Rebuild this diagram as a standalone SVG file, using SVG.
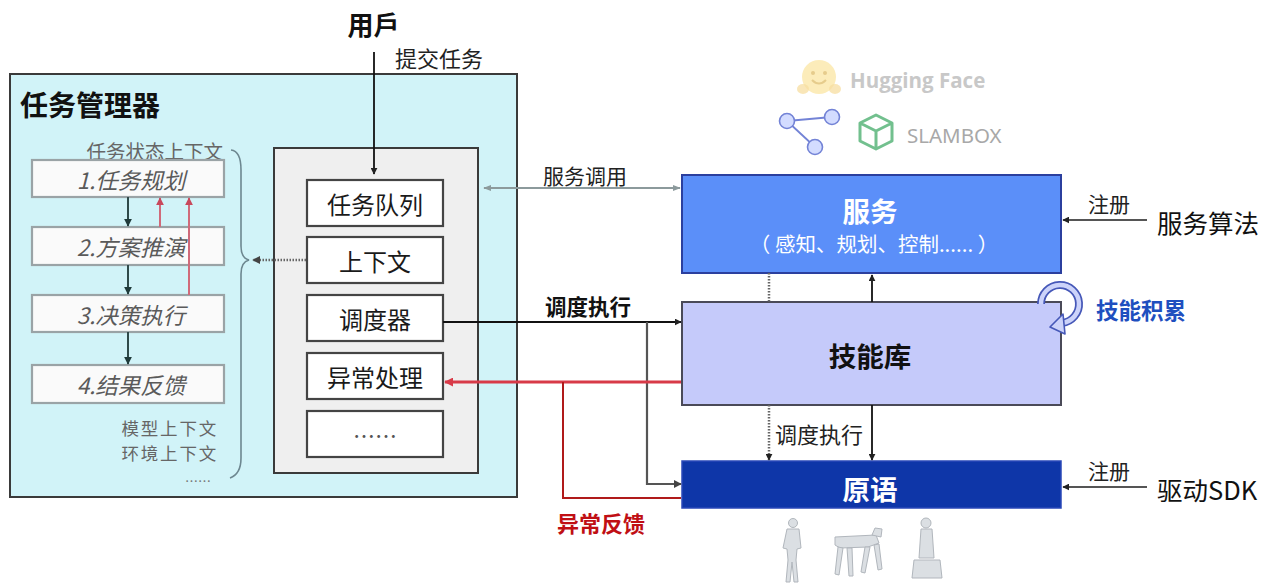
<svg xmlns="http://www.w3.org/2000/svg" width="1273" height="584" viewBox="0 0 1273 584">
  <defs>
    <style>
      .cjk { font-family: "Noto Sans CJK SC", "Noto Sans", sans-serif; }
      .c { dominant-baseline: central; }
      .mid { text-anchor: middle; }
      .end { text-anchor: end; }
      .panel { fill: #d1f3f8; stroke: #3a3a3a; stroke-width: 2; }
      .inner { fill: #efefef; stroke: #3a3a3a; stroke-width: 2; }
      .slot { fill: #ffffff; stroke: #444; stroke-width: 2.2; }
      .step { fill: #fafafa; stroke: #9aa3a6; stroke-width: 2.2; }
      .steptxt { font-size: 22.5px; font-style: italic; fill: #5a5a5a; }
      .ctx { font-size: 19.5px; fill: #666; }
      .ctx2 { font-size: 17.5px; letter-spacing: 1.8px; fill: #666; }
      .slottxt { font-size: 24px; fill: #1a1a1a; }
      .lbl { font-size: 21px; fill: #222; }
      .big { font-size: 27.5px; font-weight: bold; }
      .blk { stroke: #111; stroke-width: 1.8; fill: none; }
      .dgr { stroke: #555; stroke-width: 2.2; fill: none; }
      .gry { stroke: #8c9a9c; stroke-width: 2.2; fill: none; }
      .dot { stroke: #666; stroke-width: 2.5; stroke-dasharray: 1.5 1.5; fill: none; }
      .red { stroke: #d83a48; stroke-width: 3; fill: none; }
      .red2 { stroke: #b01a1a; stroke-width: 2; fill: none; }
      .pink { stroke: #d06a7a; stroke-width: 2; fill: none; }
      .teal { stroke: #2f4a4a; stroke-width: 2; fill: none; }
    </style>
    <marker id="ahB2" viewBox="0 0 10 10" refX="9" refY="5" markerWidth="7" markerHeight="7" orient="auto" markerUnits="userSpaceOnUse">
      <path d="M0,0 L10,5 L0,10 z" fill="#222"/>
    </marker>
    <marker id="ahG" viewBox="0 0 10 10" refX="9" refY="5" markerWidth="8" markerHeight="8" orient="auto-start-reverse" markerUnits="userSpaceOnUse">
      <path d="M0,1 L10,5 L0,9 z" fill="#8c9a9c"/>
    </marker>
    <marker id="ahD" viewBox="0 0 10 10" refX="9" refY="5" markerWidth="8" markerHeight="8" orient="auto" markerUnits="userSpaceOnUse">
      <path d="M0,0 L10,5 L0,10 z" fill="#444"/>
    </marker>
    <marker id="ahR" viewBox="0 0 10 10" refX="9" refY="5" markerWidth="9" markerHeight="9" orient="auto" markerUnits="userSpaceOnUse">
      <path d="M0,0 L10,5 L0,10 z" fill="#d83a48"/>
    </marker>
    <marker id="ahP" viewBox="0 0 10 10" refX="9" refY="5" markerWidth="8" markerHeight="8" orient="auto" markerUnits="userSpaceOnUse">
      <path d="M0,0 L10,5 L0,10 z" fill="#c8485c"/>
    </marker>
    <marker id="ahT" viewBox="0 0 10 10" refX="9" refY="5" markerWidth="8" markerHeight="8" orient="auto" markerUnits="userSpaceOnUse">
      <path d="M0,0 L10,5 L0,10 z" fill="#1f3a3a"/>
    </marker>
  </defs>

  <rect width="1273" height="584" fill="#ffffff"/>

  <!-- Task manager panel -->
  <g id="task-manager">
    <rect class="panel" x="10" y="74" width="507" height="423"/>
    <text class="cjk c" x="20" y="103.5" font-size="28" font-weight="bold" fill="#111">任务管理器</text>
    <text class="cjk c end ctx" x="223" y="150">任务状态上下文</text>
    <text class="cjk c end ctx2" x="218" y="427">模型上下文</text>
    <text class="cjk c end ctx2" x="218" y="452.5">环境上下文</text>
    <text class="cjk c mid" x="198" y="480" font-size="13" fill="#777">……</text>
    <!-- context brace -->
    <path d="M231,150 Q241,151 241,170 L241,246 Q241,258 249,260 Q241,262 241,274 L241,458 Q241,474 230,478" fill="none" stroke="#6d8790" stroke-width="1.6"/>
  </g>

  <!-- Workflow steps -->
  <g id="step-plan">
    <rect class="step" x="32" y="160" width="192" height="37"/>
    <text class="cjk c mid steptxt" x="131" y="179">1.任务规划</text>
  </g>
  <g id="step-rehearse">
    <rect class="step" x="32" y="227" width="192" height="38"/>
    <text class="cjk c mid steptxt" x="131" y="246">2.方案推演</text>
  </g>
  <g id="step-execute">
    <rect class="step" x="32" y="295" width="192" height="37"/>
    <text class="cjk c mid steptxt" x="131" y="314">3.决策执行</text>
  </g>
  <g id="step-feedback">
    <rect class="step" x="32" y="365" width="192" height="38"/>
    <text class="cjk c mid steptxt" x="131" y="384">4.结果反馈</text>
  </g>

  <!-- Core modules -->
  <g id="core">
    <rect class="inner" x="274" y="148" width="204" height="325"/>
  </g>
  <g id="task-queue">
    <rect class="slot" x="307" y="180" width="136" height="46"/>
    <text class="cjk c mid slottxt" x="375" y="203">任务队列</text>
  </g>
  <g id="context">
    <rect class="slot" x="307" y="237" width="136" height="46"/>
    <text class="cjk c mid slottxt" x="375" y="260">上下文</text>
  </g>
  <g id="scheduler">
    <rect class="slot" x="307" y="295" width="136" height="46"/>
    <text class="cjk c mid slottxt" x="375" y="318">调度器</text>
  </g>
  <g id="exception">
    <rect class="slot" x="307" y="353" width="136" height="46"/>
    <text class="cjk c mid slottxt" x="375" y="376">异常处理</text>
  </g>
  <g id="more">
    <rect class="slot" x="307" y="411" width="136" height="46"/>
    <text class="cjk c mid" x="375" y="434" font-size="22" fill="#555">……</text>
  </g>

  <!-- User -->
  <g id="user">
    <text class="cjk c mid" x="373.5" y="23.5" font-size="26" font-weight="bold" fill="#111">用戶</text>
  </g>

  <!-- Services -->
  <g id="services">
    <rect x="682" y="175" width="379" height="98" fill="#5b8ff9" stroke="#2b3f9e" stroke-width="2"/>
    <text class="cjk c mid big" x="870" y="210" fill="#ffffff">服务</text>
    <text class="cjk c mid" x="874" y="242.5" font-size="20.5" fill="#ffffff">（ 感知、规划、控制...... ）</text>
  </g>
  <g id="service-algos">
    <text class="cjk c" x="1157" y="221.5" font-size="25.5" fill="#111">服务算法</text>
  </g>

  <!-- Skill library -->
  <g id="skills">
    <rect x="682" y="302" width="379" height="103" fill="#c5cafa" stroke="#4a4a58" stroke-width="2"/>
    <text class="cjk c mid big" x="870" y="355" fill="#111">技能库</text>
  </g>
  <g id="skill-growth">
    <path d="M1041,304 A19,19 0 1 1 1062,322.9" fill="none" stroke="#4658b8" stroke-width="8"/>
    <path d="M1041,304 A19,19 0 1 1 1062,322.9" fill="none" stroke="#ccd3fa" stroke-width="4.5"/>
    <polygon points="1050,327 1063,314 1065,334" fill="#ccd3fa" stroke="#4658b8" stroke-width="1.6" stroke-linejoin="round"/>
    <text class="cjk c" x="1096" y="309" font-size="22.5" font-weight="bold" fill="#1e4fbf">技能积累</text>
  </g>

  <!-- Primitives -->
  <g id="primitives">
    <rect x="682" y="461" width="379" height="47" fill="#0e36a8" stroke="#2a48b8" stroke-width="1.5"/>
    <text class="cjk c mid big" x="870" y="487.5" fill="#ffffff">原语</text>
  </g>
  <g id="driver-sdk">
    <text class="cjk c" x="1157" y="488" font-size="25.5" fill="#111">驱动SDK</text>
  </g>

  <!-- Framework logos -->
  <g id="logos">
    <circle cx="819" cy="77" r="17" fill="#fbe7a9" opacity="0.8"/>
    <circle cx="813" cy="73" r="2" fill="#e6cc8c"/>
    <circle cx="825" cy="73" r="2" fill="#e6cc8c"/>
    <path d="M812,80 Q819,87 826,80" fill="none" stroke="#e6cc8c" stroke-width="2"/>
    <ellipse cx="803" cy="89" rx="6" ry="5" fill="#f7dea0" opacity="0.75"/>
    <ellipse cx="835" cy="89" rx="6" ry="5" fill="#f7dea0" opacity="0.75"/>
    <text x="850" y="80" dominant-baseline="central" font-family="'Open Sans', sans-serif" font-size="20.5" font-weight="bold" fill="#c8c8c8">Hugging Face</text>
    <line x1="787" y1="121" x2="832" y2="117" stroke="#7383d6" stroke-width="1.8"/>
    <line x1="787" y1="121" x2="815" y2="147" stroke="#7383d6" stroke-width="1.8"/>
    <circle cx="787" cy="121" r="7.5" fill="#d3dcff" stroke="#7383d6" stroke-width="1.6"/>
    <circle cx="832" cy="117" r="7.5" fill="#d3dcff" stroke="#7383d6" stroke-width="1.6"/>
    <circle cx="815" cy="147" r="7.5" fill="#d3dcff" stroke="#7383d6" stroke-width="1.6"/>
    <path d="M876,115 L892,123 L892,141 L876,149 L860,141 L860,123 Z M860,123 L876,131 L892,123 M876,131 L876,149" fill="none" stroke="#72c08e" stroke-width="3" stroke-linejoin="round"/>
    <text x="907" y="135" dominant-baseline="central" font-family="'Noto Sans', sans-serif" font-size="20.5" fill="#a8a8a8">SLAMBOX</text>
  </g>

  <!-- Robots -->
  <g id="robots" fill="#d8dce0" stroke="#a9afb6" stroke-width="1" opacity="0.9">
    <circle cx="793" cy="523" r="4.5"/>
    <path d="M787,529 L799,529 L801,548 L797,549 L796,560 L798,582 L794,582 L792,562 L790,582 L786,582 L788,560 L787,549 L783,548 Z"/>
    <path d="M835,537 L876,535 L879,543 L868,547 L840,548 L835,545 Z"/>
    <path d="M872,535 L875,528 L882,529 L881,537 Z"/>
    <path d="M838,547 L835,574 L839,575 L843,548 Z"/>
    <path d="M847,548 L849,576 L853,576 L852,548 Z"/>
    <path d="M865,547 L861,572 L865,573 L870,547 Z"/>
    <path d="M874,545 L878,570 L882,569 L879,544 Z"/>
    <circle cx="926" cy="523" r="5"/>
    <path d="M921,529 L932,529 L934,558 L919,558 Z"/>
    <path d="M914,560 L940,560 L942,578 L912,578 Z"/>
  </g>

  <!-- Connectors -->
  <g id="connectors">
    <!-- task flow inside the manager -->
    <line class="teal" x1="128" y1="197" x2="128" y2="226" marker-end="url(#ahT)"/>
    <line class="teal" x1="128" y1="265" x2="128" y2="294" marker-end="url(#ahT)"/>
    <line class="teal" x1="128" y1="332" x2="128" y2="364" marker-end="url(#ahT)"/>
    <line class="pink" x1="160" y1="227" x2="160" y2="198" marker-end="url(#ahP)"/>
    <line class="pink" x1="189" y1="295" x2="189" y2="198" marker-end="url(#ahP)"/>
    <!-- context to steps -->
    <line class="dot" x1="306" y1="260" x2="253" y2="260" marker-end="url(#ahD)"/>
    <!-- user submits task -->
    <line class="blk" x1="374" y1="52" x2="374" y2="174" marker-end="url(#ahB2)"/>
    <text class="cjk c" x="395" y="57" font-size="22" fill="#222">提交任务</text>
    <!-- service call -->
    <line class="gry" x1="484" y1="188" x2="680" y2="188" marker-start="url(#ahG)" marker-end="url(#ahG)"/>
    <text class="cjk c lbl" x="543" y="175">服务调用</text>
    <!-- scheduling -->
    <line class="blk" x1="443" y1="322" x2="681" y2="322" stroke-width="2" marker-end="url(#ahB2)"/>
    <text class="cjk c" x="545" y="305" font-size="21.5" font-weight="bold" fill="#111">调度执行</text>
    <polyline class="dgr" points="647,322 647,484 681,484" marker-end="url(#ahD)"/>
    <!-- exception feedback -->
    <line class="red" x1="681" y1="382" x2="445" y2="382" marker-end="url(#ahR)"/>
    <polyline class="red2" points="681,498 563,498 563,382"/>
    <text class="cjk c" x="557" y="522" font-size="22" font-weight="bold" fill="#c00f14">异常反馈</text>
    <!-- between services and skills -->
    <line class="dot" x1="769" y1="273" x2="769" y2="302"/>
    <line class="blk" x1="872" y1="302" x2="872" y2="275" marker-end="url(#ahB2)"/>
    <!-- between skills and primitives -->
    <line class="dot" x1="769" y1="405" x2="769" y2="460" marker-end="url(#ahB2)"/>
    <line class="blk" x1="872" y1="405" x2="872" y2="460" marker-end="url(#ahB2)"/>
    <text class="cjk c" x="775" y="432.5" font-size="22" fill="#222">调度执行</text>
    <!-- registration -->
    <line class="dgr" x1="1147" y1="220" x2="1063" y2="220" marker-end="url(#ahB2)"/>
    <text class="cjk c lbl" x="1088" y="203">注册</text>
    <line class="dgr" x1="1147" y1="487" x2="1063" y2="487" marker-end="url(#ahB2)"/>
    <text class="cjk c lbl" x="1088" y="470">注册</text>
  </g>
</svg>
